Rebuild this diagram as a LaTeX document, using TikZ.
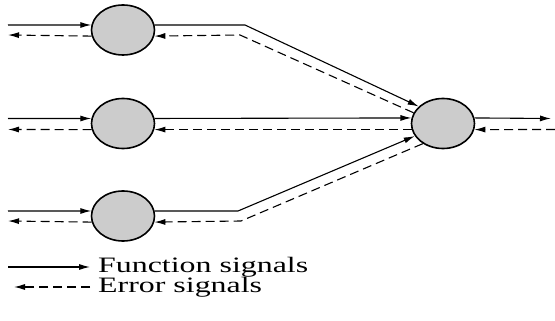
\documentclass[tikz,border=0pt]{standalone}
\usepackage{fontspec}
\setmainfont{Liberation Serif}
\usetikzlibrary{shapes.geometric,arrows.meta}
\begin{document}
\begin{tikzpicture}[x=1pt,y=-1pt,
    neuron/.style={ellipse,draw,line width=1.6pt,fill=gray!40,minimum width=63pt,minimum height=50pt,inner sep=0pt},
    fsig/.style={line width=1.1pt,-{Latex[length=11pt,width=6pt]}},
    esig/.style={line width=1.1pt,dash pattern=on 9pt off 5pt,-{Latex[length=11pt,width=6pt]}},
    legend/.style={anchor=west,font=\fontsize{22}{24}\selectfont,inner sep=0pt}]
  \useasboundingbox (0,0) rectangle (555,321);
  % hidden neurons and output neuron
  \node[neuron] (n1) at (123,30) {};
  \node[neuron] (n2) at (123,123.5) {};
  \node[neuron] (n3) at (123,216) {};
  \node[neuron] (out) at (443,123.5) {};
  % free ends and bends
  \coordinate (in1) at (8,25);  \coordinate (ein1) at (8,35);
  \coordinate (in2) at (8,118.5); \coordinate (ein2) at (8,129.5);
  \coordinate (in3) at (8,211); \coordinate (ein3) at (8,221);
  \coordinate (b1) at (245,25); \coordinate (eb1) at (240,35);
  \coordinate (b3) at (238,211); \coordinate (eb3) at (241,221);
  \coordinate (y) at (555,118.5); \coordinate (ey) at (555,129.5);
  % function signals
  \draw[fsig] (in1) -- (n1.171);
  \draw[fsig] (in2) -- (n2.171);
  \draw[fsig] (in3) -- (n3.171);
  \draw[fsig] (n1.9) -- (b1) -- (out.145);
  \draw[fsig] (n2.9) -- (out.170);
  \draw[fsig] (n3.9) -- (b3) -- (out.204);
  \draw[fsig] (out.10) -- ([xshift=-4pt]y);
  % error signals
  \draw[esig] (n1.191) -- (ein1);
  \draw[esig] (n2.191) -- (ein2);
  \draw[esig] (n3.191) -- (ein3);
  \draw[esig] (out.160) -- (eb1) -- (n1.-11);
  \draw[esig] (out.191) -- (n2.-11);
  \draw[esig] (out.225) -- (eb3) -- (n3.-11);
  \draw[esig] (ey) -- (out.-11);
  % legend
  \coordinate (l1) at (8,267); \coordinate (l2) at (14,287);
  \node[legend] (fl) at (98,267) {\scalebox{1.45}[1]{Function signals}};
  \node[legend] (el) at (98,287) {\scalebox{1.45}[1]{Error signals}};
  \draw[fsig] (l1) -- ([xshift=-8pt]fl.west);
  \draw[esig] ([xshift=-8pt]el.west) -- (l2);
\end{tikzpicture}
\end{document}
